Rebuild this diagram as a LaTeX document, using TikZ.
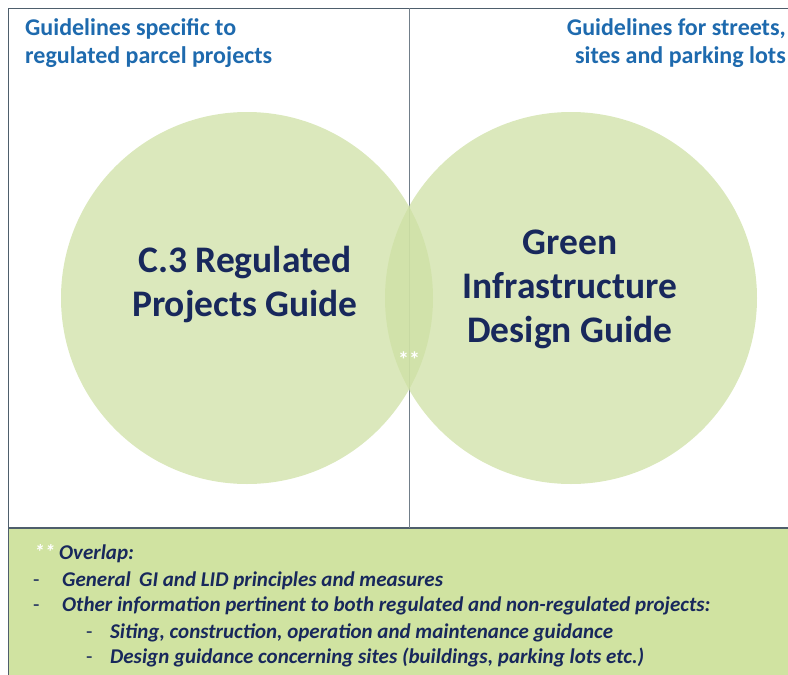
\documentclass[tikz,border=0pt]{standalone}
\usepackage{fontspec}
\setmainfont{Carlito}
\usepackage{tikz}

\definecolor{headblue}{RGB}{30,106,174}
\definecolor{navy}{RGB}{24,40,92}
\definecolor{circgreen}{RGB}{206,224,164}
\definecolor{panelgreen}{RGB}{208,227,161}
\definecolor{frameline}{RGB}{78,94,108}

\begin{document}
\begin{tikzpicture}[x=1pt, y=-1pt,
    header/.style={text=headblue, font=\fontsize{24}{28}\selectfont\bfseries, inner sep=0pt},
    guide/.style={text=navy, font=\fontsize{37.5}{44}\selectfont\bfseries, align=center, inner sep=0pt},
    item/.style={text=navy, font=\fontsize{21}{26}\selectfont\bfseries\itshape, inner sep=0pt, anchor=base west},
    bullet/.style={text=navy, font=\fontsize{21}{26}\selectfont, inner sep=0pt, anchor=base west}]
    \useasboundingbox (0,0) rectangle (788,675);

    % bottom panel
    \fill[panelgreen] (8,528) rectangle (788,675);

    % frame and divider
    \draw[frameline, line width=1pt] (788,8) -- (8,8) -- (8,675);
    \draw[frameline, line width=1.2pt] (8,528) -- (788,528);
    \draw[frameline!80, line width=1pt] (409,8) -- (409,528);

    % the two guides
    \fill[circgreen, fill opacity=0.74] (247,298) circle (186);
    \fill[circgreen, fill opacity=0.74] (571,298) circle (186);

    \node[guide] (c3) at (245,285) {C.3 Regulated\\Projects Guide};
    \node[guide] (gi) at (570,289) {Green\\Infrastructure\\Design Guide};
    \node[text=white, font=\fontsize{22}{24}\selectfont\bfseries, inner sep=0pt] (stars) at (409,360) {**};

    % headers
    \node[header, anchor=base west] (lefthead1) at (25,35) {Guidelines specific to};
    \node[header, anchor=base west] (lefthead2) at (25,63) {regulated parcel projects};
    \node[header, anchor=base east] (righthead1) at (786,35) {Guidelines for streets,};
    \node[header, anchor=base east] (righthead2) at (786,63) {sites and parking lots};

    % overlap notes
    \node[item, text=white] (ovstars) at (34,559) {**};
    \node[item] (ovtitle) at (59,559) {Overlap:};
    \node[bullet] (d1) at (33,586) {-};
    \node[item] (t1) at (62,586) {General\, GI and LID principles and measures};
    \node[bullet] (d2) at (33,611) {-};
    \node[item] (t2) at (62,611) {Other information pertinent to both regulated and non-regulated projects:};
    \node[bullet] (d3) at (86,638) {-};
    \node[item] (t3) at (110,638) {Siting, construction, operation and maintenance guidance};
    \node[bullet] (d4) at (86,663) {-};
    \node[item] (t4) at (110,663) {Design guidance concerning sites (buildings, parking lots etc.)};
\end{tikzpicture}
\end{document}
